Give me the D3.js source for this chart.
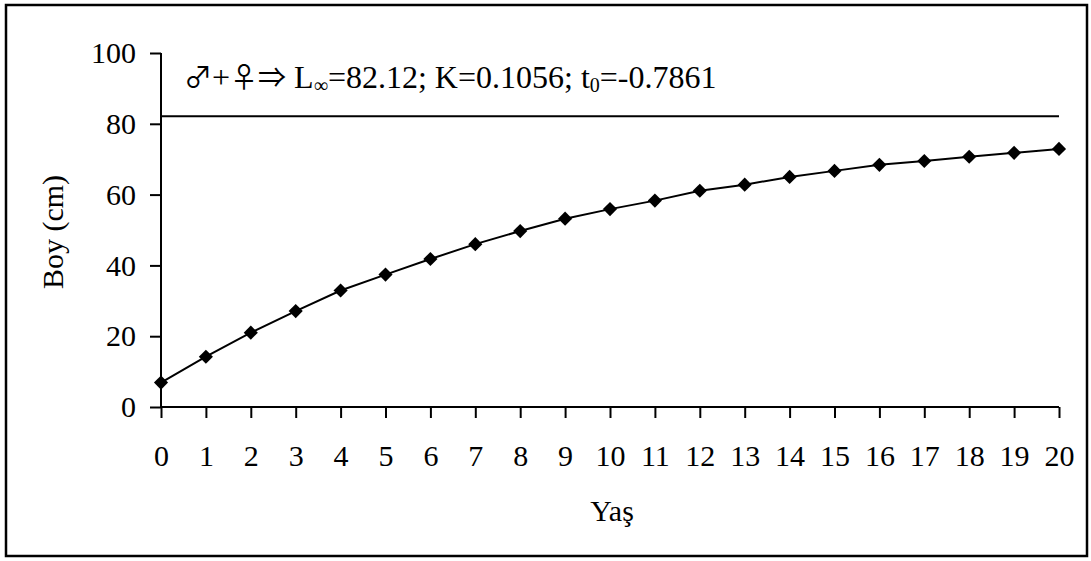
<!DOCTYPE html>
<html>
<head>
<meta charset="utf-8">
<script src="https://cdn.jsdelivr.net/npm/d3@7"></script>
<style>
  body { margin: 0; background: #fff; }
  svg text { font-family: "Liberation Serif", "Times New Roman", serif; fill: #000; }
</style>
</head>
<body>
<svg id="canvas" width="1091" height="561"></svg>
<script>
// data
var ages = [0,1,2,3,4,5,6,7,8,9,10,11,12,13,14,15,16,17,18,19,20];
var lengths = [6.9,14.2,21.0,27.1,32.9,37.4,41.8,46.0,49.7,53.2,55.9,58.3,61.1,62.8,65.0,66.7,68.4,69.5,70.7,71.8,72.9];
var lInf = 82.12;
var yTicks = [0,20,40,60,80,100];
var xLabel = "Yaş";
var yLabel = "Boy (cm)";

var fontSize = '30px';
var svg = d3.select('#canvas');

// outer frame
svg.append('rect')
  .attr('x', 6).attr('y', 5).attr('width', 1081).attr('height', 551)
  .attr('fill', 'none').attr('stroke', '#000').attr('stroke-width', 2.5);

var x = d3.scaleLinear().domain([0, 20]).range([161, 1059]);
var y = d3.scaleLinear().domain([0, 100]).range([407, 53]);

// y axis
var yAxis = svg.append('g').attr('transform', 'translate(161,0)')
  .call(d3.axisLeft(y).tickValues(yTicks).tickSize(11).tickPadding(14));

// x axis
var xAxis = svg.append('g').attr('transform', 'translate(0,407)')
  .call(d3.axisBottom(x).tickValues(ages).tickSize(11).tickPadding(27));

svg.selectAll('g').attr('font-family', null).attr('font-size', null);
svg.selectAll('.tick text').style('font-size', fontSize);
// axis lines without end caps
yAxis.select('.domain').attr('d', 'M0,' + y(100) + 'V' + y(0)).attr('stroke-width', 2);
xAxis.select('.domain').attr('d', 'M' + x(0) + ',0H' + x(20)).attr('stroke-width', 2);
svg.selectAll('.tick line').attr('stroke-width', 2);

// L infinity line
svg.append('line')
  .attr('x1', x(0)).attr('x2', x(20))
  .attr('y1', y(lInf)).attr('y2', y(lInf))
  .attr('stroke', '#000').attr('stroke-width', 2);

// growth curve
var line = d3.line().x(function(d, i){ return x(ages[i]); }).y(function(d){ return y(d); });
svg.append('path').datum(lengths)
  .attr('d', line).attr('fill', 'none').attr('stroke', '#000').attr('stroke-width', 2);

var diamond = d3.symbol().type(d3.symbolSquare).size(100);
svg.selectAll('.pt').data(lengths).enter().append('path')
  .attr('class', 'pt')
  .attr('d', diamond)
  .attr('transform', function(d, i){ return 'translate(' + x(ages[i]) + ',' + y(d) + ') rotate(45)'; })
  .attr('fill', '#000');

// annotation
var sym = '"Noto Sans CJK JP"';
var ann = svg.append('text').attr('x', 184).attr('y', 88).style('font-size', '32px');
ann.append('tspan').style('font-family', sym).style('font-size', '28px').text('\u2642');
ann.append('tspan').text('+');
ann.append('tspan').style('font-family', sym).style('font-size', '28px').text('\u2640\u21D2');
ann.append('tspan').text(' L');
ann.append('tspan').attr('dy', 4).style('font-size', '20px').text('\u221E');
ann.append('tspan').attr('dy', -4).text('=82.12; K=0.1056; t');
ann.append('tspan').attr('dy', 4).style('font-size', '20px').text('0');
ann.append('tspan').attr('dy', -4).text('=-0.7861');

// axis titles
svg.append('text').attr('x', 612).attr('y', 521).attr('text-anchor', 'middle')
  .style('font-size', fontSize).text(xLabel);
svg.append('text').attr('transform', 'translate(63,232) rotate(-90)').attr('text-anchor', 'middle')
  .style('font-size', fontSize).text(yLabel);
</script>
</body>
</html>
